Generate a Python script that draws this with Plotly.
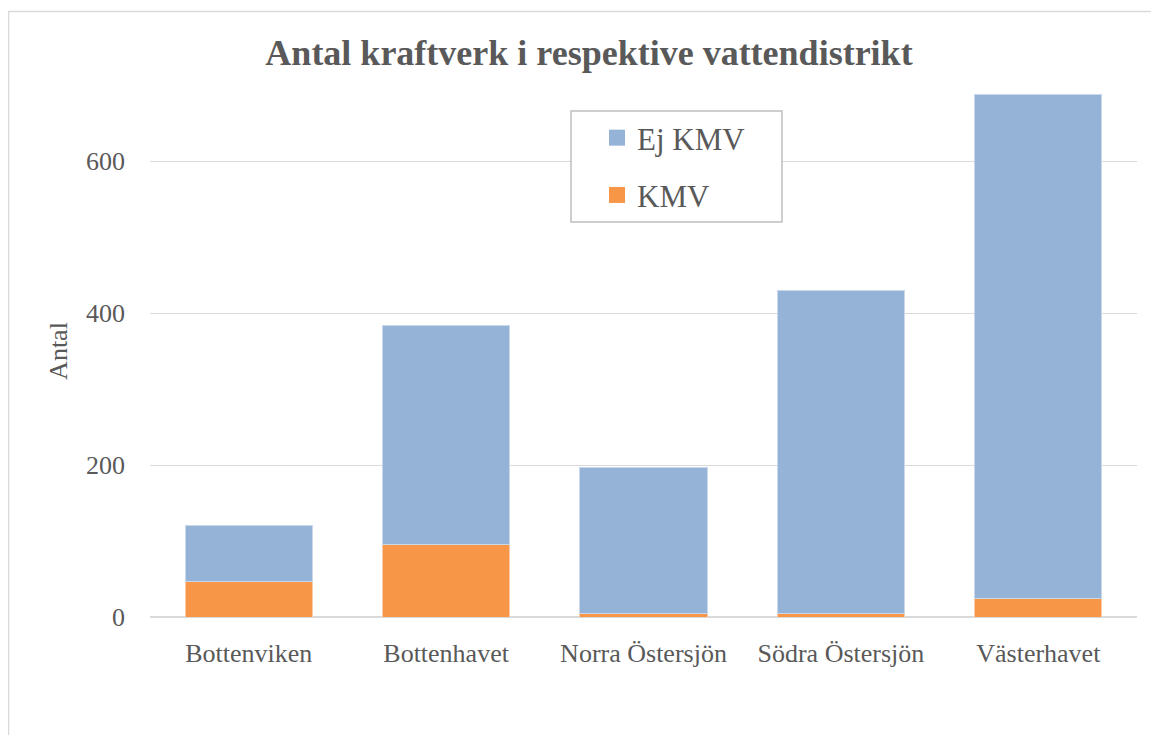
import plotly.graph_objects as go

categories = ["Bottenviken", "Bottenhavet", "Norra Östersjön", "Södra Östersjön", "Västerhavet"]
kmv = [47, 95, 4, 5, 25]
ej_kmv = [74, 289, 193, 425, 663]
y_ticks = [0, 200, 400, 600]

FONT = "Liberation Serif"
GREY = "#595959"
BLUE = "#95B3D7"
ORANGE = "#F79646"
W, H = 1159, 735
OFF = 8  # page body offset
L, R, T, B = 150 - OFF, 22 + OFF, 85 - OFF, 118 + OFF
PW, PH = W - L - R, H - T - B


def px(sx):
    return (sx - OFF - L) / PW


def py(sy):
    return 1 - (sy - OFF - T) / PH


fig = go.Figure()
fig.add_trace(go.Bar(
    x=categories, y=kmv, name="KMV", showlegend=False,
    marker=dict(color=ORANGE, line=dict(color="#FBC9A3", width=1)),
))
fig.add_trace(go.Bar(
    x=categories, y=ej_kmv, name="Ej KMV", showlegend=False,
    marker=dict(color=BLUE, line=dict(color="#C9D9EB", width=1)),
))
# legend entries
fig.add_trace(go.Scatter(x=[None], y=[None], mode="markers", name="Ej KMV",
                         legendgroup="a", legendrank=1,
                         marker=dict(symbol="square", size=16, color=BLUE)))
fig.add_trace(go.Scatter(x=[None], y=[None], mode="markers", name="KMV",
                         legendgroup="b", legendrank=2,
                         marker=dict(symbol="square", size=16, color=ORANGE)))

fig.update_layout(
    width=W, height=H,
    barmode="stack", bargap=0.355,
    paper_bgcolor="white", plot_bgcolor="white",
    margin=dict(l=L, r=R, t=T, b=B, autoexpand=False),
    font=dict(family=FONT, color=GREY, size=26),
    title=dict(
        text="<b>Antal kraftverk i respektive vattendistrikt</b>",
        x=(589 - OFF) / W, xref="container", xanchor="center",
        y=1 - (52 - OFF) / H, yref="container", yanchor="middle",
        font=dict(family=FONT, size=36, color=GREY),
    ),
    legend=dict(
        x=px(597), y=py(111), xref="paper", yref="paper",
        xanchor="left", yanchor="top",
        traceorder="grouped", tracegroupgap=14,
        borderwidth=0, bgcolor="rgba(0,0,0,0)",
        font=dict(family=FONT, size=31, color=GREY),
        itemwidth=30,
    ),
    showlegend=True,
)

fig.update_xaxes(
    showgrid=False, showline=False, ticks="", tickangle=0, ticklabelstandoff=18,
    tickfont=dict(family=FONT, size=26, color=GREY),
)
fig.update_yaxes(
    range=[0, 700], tickvals=y_ticks, showgrid=True, gridcolor="#D9D9D9", gridwidth=1,
    zeroline=True, zerolinecolor="#D9D9D9", zerolinewidth=2,
    ticks="", ticklabelstandoff=24,
    title=dict(text="Antal", font=dict(family=FONT, size=26, color=GREY), standoff=10),
    tickfont=dict(family=FONT, size=26, color=GREY),
)

# legend box
fig.add_shape(type="rect", xref="paper", yref="paper",
              x0=px(571), x1=px(782), y0=py(222), y1=py(111),
              line=dict(color="#BFBFBF", width=1.5), fillcolor="white", layer="above")

# chart border
fig.add_shape(type="rect", xref="paper", yref="paper",
              x0=px(8.5), x1=px(1175), y0=py(760), y1=py(11.5),
              line=dict(color="#D9D9D9", width=1.5), layer="below")

fig.write_html("out.html")
